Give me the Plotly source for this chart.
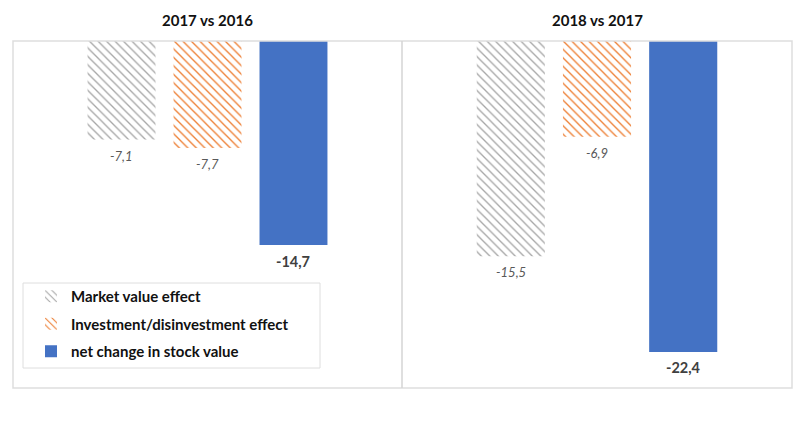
import plotly.graph_objects as go

# Stock value decomposition, by comparison period
periods = ["2017 vs 2016", "2018 vs 2017"]
series_names = ["Market value effect", "Investment/disinvestment effect", "net change in stock value"]
market_value_effect = [-7.1, -15.5]
investment_effect = [-7.7, -6.9]
net_change = [-14.7, -22.4]

W, H = 798, 426
GRAY = "#a6a6a6"
ORANGE = "#ed7d31"
BLUE = "#4472c4"
FONT = "Lato"


def px_x(p):
    return p / W


def px_y(p):
    return 1 - p / H


styles = [
    dict(color="white", line=dict(width=0),
         pattern=dict(shape="\\", fgcolor=GRAY, bgcolor="white", size=6, solidity=0.22, fillmode="replace")),
    dict(color="white", line=dict(width=0),
         pattern=dict(shape="\\", fgcolor=ORANGE, bgcolor="white", size=6, solidity=0.22, fillmode="replace")),
    dict(color=BLUE, line=dict(width=0)),
]
values = [market_value_effect, investment_effect, net_change]

fig = go.Figure()
annotations = []
for p, period in enumerate(periods):
    xa = "x" if p == 0 else "x2"
    ya = "y" if p == 0 else "y2"
    for s, name in enumerate(series_names):
        v = values[s][p]
        fig.add_trace(go.Bar(
            x=[name], y=[v], width=0.79, name=name,
            marker=styles[s], xaxis=xa, yaxis=ya,
            legendgroup=name, showlegend=(p == 0),
            hoverinfo="skip",
        ))
        bold = (s == 2)
        annotations.append(dict(
            x=name, y=v, xref=xa, yref=ya, showarrow=False,
            yanchor="middle", yshift=-16,
            text=f"{v:.1f}".replace(".", ","),
            font=dict(family=FONT, size=14.5 if bold else 13,
                      color="#404040" if bold else "#595959",
                      weight="bold" if bold else "normal",
                      style="normal" if bold else "italic"),
        ))
    cx = (13 + 402) / 2 if p == 0 else (402 + 792) / 2
    annotations.append(dict(
        x=px_x(cx), y=px_y(20), xref="paper", yref="paper", showarrow=False,
        xanchor="center", yanchor="middle", text=period,
        font=dict(family=FONT, size=15, color="#111111", weight="bold"),
    ))

axis_common = dict(showgrid=False, zeroline=False, showticklabels=False, ticks="", showline=False)
x_range = [-1.262, 3.262]
y_dom = [px_y(388), px_y(41)]

fig.update_layout(
    width=W, height=H,
    margin=dict(l=0, r=0, t=0, b=0),
    paper_bgcolor="white", plot_bgcolor="white",
    barmode="overlay",
    xaxis=dict(domain=[px_x(13), px_x(402)], range=x_range, **axis_common),
    xaxis2=dict(domain=[px_x(402), px_x(792)], range=x_range, **axis_common),
    yaxis=dict(domain=y_dom, range=[-25, 0], **axis_common),
    yaxis2=dict(domain=y_dom, range=[-25, 0], anchor="x2", **axis_common),
    annotations=annotations,
    showlegend=True,
    legend=dict(
        x=px_x(31), y=px_y(280), xanchor="left", yanchor="top",
        bgcolor="rgba(0,0,0,0)", borderwidth=0,
        traceorder="grouped", tracegroupgap=5,
        font=dict(family=FONT, size=15, color="#111111", weight="bold"),
    ),
    shapes=[
        dict(type="rect", xref="paper", yref="paper",
             x0=px_x(13), x1=px_x(792), y0=px_y(388), y1=px_y(41),
             line=dict(color="#dedede", width=1.5), layer="above"),
        dict(type="line", xref="paper", yref="paper",
             x0=px_x(402), x1=px_x(402), y0=px_y(388), y1=px_y(41),
             line=dict(color="#d4d4d4", width=1.5)),
        dict(type="rect", xref="paper", yref="paper",
             x0=px_x(23), x1=px_x(320), y0=px_y(368), y1=px_y(283),
             line=dict(color="#dedede", width=1)),
    ],
)

fig.write_html("out.html")
